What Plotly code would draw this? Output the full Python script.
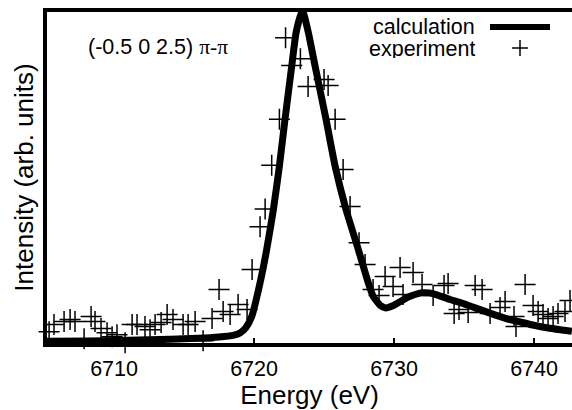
import plotly.graph_objects as go

# calculated spectrum
calc_energy = [6705.0, 6708.0, 6711.0, 6714.0, 6716.0, 6717.5, 6718.5, 6719.0, 6719.4,
               6719.84, 6720.43, 6720.9, 6721.38, 6721.81, 6722.21, 6722.69, 6723.0, 6723.45,
               6723.88, 6724.36, 6725.14, 6725.79, 6726.57, 6727.45, 6728.16, 6728.5, 6729.0,
               6729.4, 6730.0, 6730.5, 6731.0, 6731.5, 6732.0, 6732.5, 6733.0, 6734.0,
               6735.0, 6736.0, 6737.0, 6738.0, 6739.0, 6740.0, 6741.0, 6742.0, 6742.7]
calc_intensity = [0.010, 0.011, 0.013, 0.016, 0.019, 0.023, 0.028, 0.035, 0.050,
                  0.085, 0.185, 0.284, 0.404, 0.534, 0.674, 0.833, 0.933, 1.000,
                  0.933, 0.833, 0.674, 0.534, 0.404, 0.284, 0.185, 0.145, 0.118,
                  0.110, 0.118, 0.130, 0.142, 0.150, 0.155, 0.155, 0.150, 0.135,
                  0.122, 0.107, 0.092, 0.078, 0.068, 0.058, 0.050, 0.044, 0.040]

# experimental points
exp_energy = [6705.36, 6705.71, 6706.43, 6706.86, 6707.21, 6707.86, 6708.36, 6708.64, 6709.07,
              6709.50, 6709.86, 6710.21, 6710.79, 6711.29, 6711.64, 6712.21, 6712.57, 6712.93,
              6713.36, 6713.79, 6714.21, 6714.93, 6715.29, 6715.79, 6716.36, 6717.00, 6717.50,
              6717.79, 6718.29, 6718.86, 6719.50, 6719.86, 6720.43, 6720.79, 6721.26, 6721.81,
              6722.25, 6722.69, 6723.31, 6723.86, 6725.00, 6725.29, 6725.79, 6726.36, 6726.86,
              6727.50, 6727.93, 6728.50, 6728.93, 6729.36, 6729.93, 6730.43, 6730.64, 6731.36,
              6732.00, 6732.79, 6733.57, 6733.86, 6734.29, 6734.64, 6735.29, 6735.79, 6736.29,
              6736.86, 6737.57, 6737.93, 6738.57, 6738.71, 6739.36, 6739.93, 6740.29, 6740.64,
              6741.00, 6741.36, 6741.71, 6742.21, 6742.57]
exp_intensity = [0.039, 0.060, 0.069, 0.075, 0.069, 0.018, 0.084, 0.069, 0.048,
                 0.036, 0.024, 0.030, 0.006, 0.060, 0.060, 0.054, 0.045, 0.060,
                 0.066, 0.090, 0.075, 0.060, 0.060, 0.069, 0.012, 0.078, 0.165,
                 0.099, 0.090, 0.120, 0.105, 0.225, 0.353, 0.406, 0.537, 0.674,
                 0.918, 0.835, 0.855, 0.772, 0.793, 0.775, 0.674, 0.524, 0.413,
                 0.305, 0.240, 0.165, 0.147, 0.204, 0.174, 0.231, 0.150, 0.216,
                 0.180, 0.147, 0.177, 0.183, 0.093, 0.105, 0.096, 0.177, 0.165,
                 0.093, 0.111, 0.129, 0.084, 0.054, 0.180, 0.117, 0.099, 0.090,
                 0.078, 0.084, 0.093, 0.099, 0.132]

tick_vals = [6710, 6720, 6730, 6740]

FONT = "Liberation Sans, Arial, sans-serif"
FS = 21.5
W, H = 572, 410
L, R, T, B = 47, 0, 12, 67

fig = go.Figure()
fig.add_trace(go.Scatter(
    x=exp_energy, y=exp_intensity, mode="markers", name="experiment",
    marker=dict(symbol="cross-thin", size=15, color="black",
                line=dict(width=1.5, color="black")),
    cliponaxis=False
))
fig.add_trace(go.Scatter(
    x=calc_energy, y=calc_intensity, mode="lines", name="calculation",
    line=dict(color="black", width=7, shape="spline", smoothing=0.5)
))

# gnuplot style key: text on the left, sample on the right
def px(x):
    return (x - L) / (W - L - R)

def py(y):
    return (H - B - y) / (H - T - B)

fig.add_annotation(x=px(477), y=py(27), xref="paper", yref="paper", text="calculation",
                   showarrow=False, xanchor="right", yanchor="middle", height=18,
                   font=dict(family=FONT, size=FS, color="black"))
fig.add_annotation(x=px(477), y=py(49), xref="paper", yref="paper", text="experiment",
                   showarrow=False, xanchor="right", yanchor="middle", height=18,
                   font=dict(family=FONT, size=FS, color="black"))
fig.add_shape(type="line", xref="paper", yref="paper", x0=px(490), x1=px(550),
              y0=py(27), y1=py(27), line=dict(color="black", width=6))
fig.add_shape(type="line", xref="paper", yref="paper", x0=px(512), x1=px(528),
              y0=py(48), y1=py(48), line=dict(color="black", width=1.5))
fig.add_shape(type="line", xref="paper", yref="paper", x0=px(520), x1=px(520),
              y0=py(40), y1=py(56), line=dict(color="black", width=1.5))

fig.add_annotation(x=px(86), y=py(47), xref="paper", yref="paper",
                   text='(-0.5 0 2.5) <span style="font-family:Liberation Serif">π-π</span>',
                   showarrow=False, xanchor="left", yanchor="middle",
                   font=dict(family=FONT, size=FS, color="black"))

fig.update_layout(
    width=W, height=H,
    margin=dict(l=L, r=R, t=T, b=B),
    paper_bgcolor="white", plot_bgcolor="white",
    showlegend=False,
    font=dict(family=FONT, size=FS, color="black"),
    xaxis=dict(
        range=[6705.21, 6742.71], tickvals=tick_vals, ticks="inside", ticklen=5,
        tickwidth=2, tickcolor="black", showgrid=False, zeroline=False,
        showline=True, linewidth=4, linecolor="black", mirror=True,
        ticklabelstandoff=3,
        title=dict(text="Energy (eV)", standoff=8),
        tickfont=dict(size=FS)
    ),
    yaxis=dict(
        range=[0.005, 0.995], showticklabels=False, ticks="", showgrid=False,
        zeroline=False, showline=True, linewidth=4, linecolor="black",
        title=dict(text="Intensity (arb. units)", standoff=3)
    ),
)

fig.write_html("out.html", config={"displayModeBar": False},
               post_script="document.body.style.margin='0';")
